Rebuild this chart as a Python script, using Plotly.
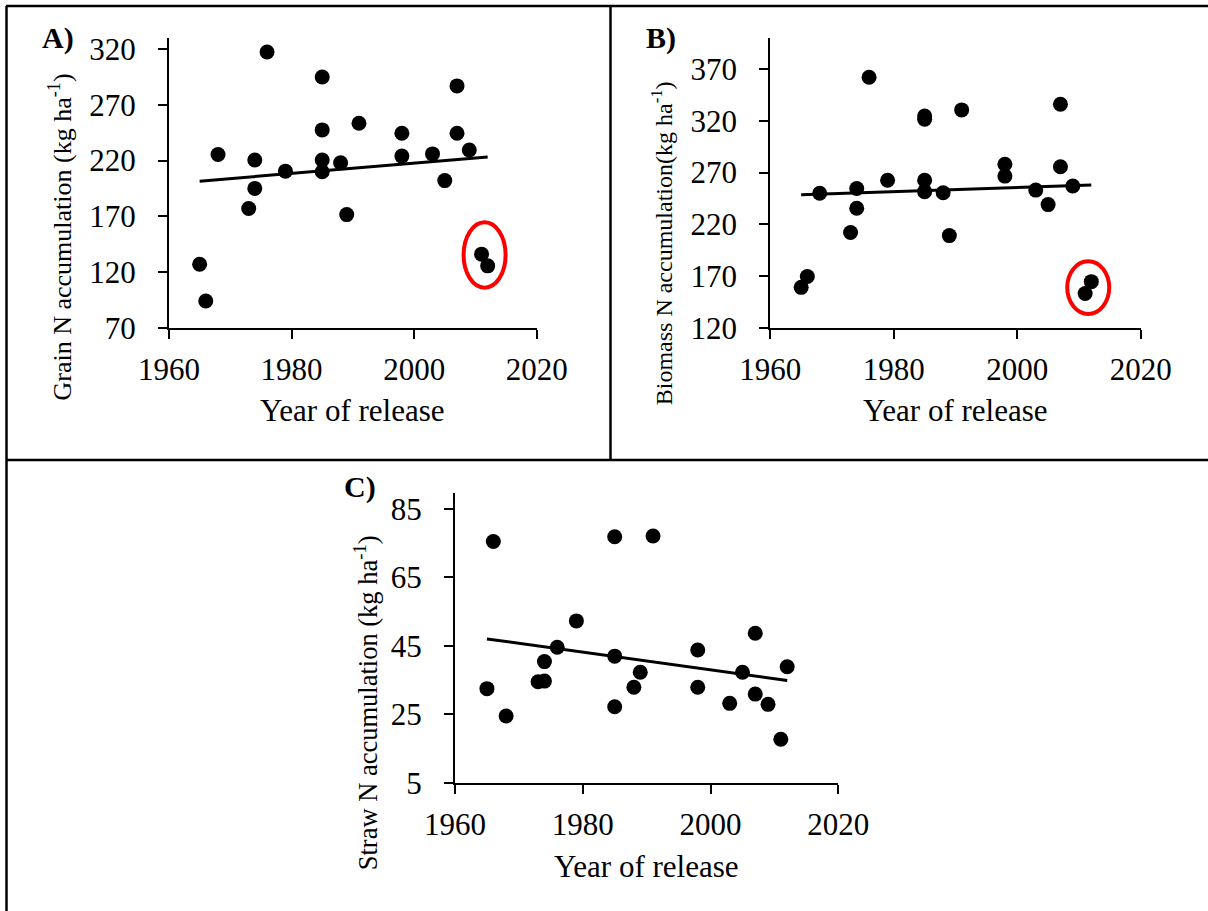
import numpy as np
import plotly.graph_objects as go

W, H = 1208, 911

# ---------------- data ----------------
years_a = [1965, 1966, 1968, 1973, 1974, 1974, 1976, 1979, 1985, 1985, 1985, 1985,
           1988, 1989, 1991, 1998, 1998, 2003, 2005, 2007, 2007, 2009, 2011, 2012]
grain_n = [127, 94, 225.5, 177, 195, 220.5, 317.5, 210.5, 295, 247.5, 220.5, 210,
           218, 171.5, 253.5, 244.5, 224, 226, 202, 287, 244.5, 229.5, 136, 125.5]

years_b = [1965, 1966, 1968, 1973, 1974, 1974, 1976, 1979, 1985, 1985, 1985, 1985,
           1988, 1989, 1991, 1998, 1998, 2003, 2005, 2007, 2007, 2009, 2011, 2012]
biomass_n = [159, 169.5, 250, 212, 235.5, 254.5, 362, 262.5, 324.5, 321.5, 262.5, 251.5,
             250.5, 209, 330.5, 278, 266.5, 253, 239, 336, 275.5, 257, 153, 164.5]

years_c = [1965, 1966, 1968, 1973, 1974, 1974, 1976, 1979, 1985, 1985, 1985, 1988,
           1989, 1991, 1998, 1998, 2003, 2005, 2007, 2007, 2009, 2011, 2012]
straw_n = [32.5, 75.5, 24.5, 34.5, 34.7, 40.4, 44.6, 52.3, 76.9, 42, 27.2, 32.9,
           37.3, 77.1, 43.8, 32.9, 28.2, 37.3, 48.7, 30.9, 27.9, 17.7, 38.9]

x_ticks = [1960, 1980, 2000, 2020]
y_ticks_a = [70, 120, 170, 220, 270, 320]
y_ticks_b = [120, 170, 220, 270, 320, 370]
y_ticks_c = [5, 25, 45, 65, 85]

titles_y = ["Grain N accumulation (kg ha<sup>-1</sup>)",
            "Biomass N accumulation(kg ha<sup>-1</sup>)",
            "Straw N accumulation (kg ha<sup>-1</sup>)"]
title_x = "Year of release"
panel_labels = ["A)", "B)", "C)"]
highlight_n = 2  # last two varieties circled in A and B

FONT = "Liberation Serif, Times New Roman, serif"


def px_x(p):
    return p / W


def px_y(p):
    return 1 - p / H


# panel boxes in pixels: (left, right, top, bottom)
boxes = [(169, 536.7, 38, 327.7), (770.3, 1140.7, 38, 327.7), (455, 838.3, 493.3, 782.7)]
yranges = [[70, 330], [120, 400], [5, 89.6]]
yticks = [y_ticks_a, y_ticks_b, y_ticks_c]
datasets = [(years_a, grain_n), (years_b, biomass_n), (years_c, straw_n)]

fig = go.Figure()

for i, (xs, ys) in enumerate(datasets):
    n = i + 1
    xa = "x" if n == 1 else f"x{n}"
    ya = "y" if n == 1 else f"y{n}"
    fig.add_trace(go.Scatter(x=xs, y=ys, mode="markers", xaxis=xa, yaxis=ya,
                             marker=dict(color="black", size=15),
                             showlegend=False, hoverinfo="x+y"))
    slope, icpt = np.polyfit(np.array(xs, float), np.array(ys, float), 1)
    xl = np.array([min(xs), max(xs)], float)
    fig.add_trace(go.Scatter(x=xl, y=slope * xl + icpt, mode="lines", xaxis=xa, yaxis=ya,
                             line=dict(color="black", width=3),
                             showlegend=False, hoverinfo="skip"))

    l, r, t, b = boxes[i]
    axis_common = dict(showline=True, linecolor="black", linewidth=2, ticks="outside",
                       ticklen=9, tickwidth=2, tickcolor="black", showgrid=False,
                       zeroline=False, mirror=False, automargin=False,
                       tickfont=dict(family=FONT, size=31, color="black"))
    fig.layout[f"xaxis{'' if n == 1 else n}"] = dict(
        domain=[px_x(l), px_x(r)], range=[1960, 2020], tickvals=x_ticks,
        anchor=ya, ticklabelstandoff=4, **axis_common)
    fig.layout[f"yaxis{'' if n == 1 else n}"] = dict(
        domain=[px_y(b), px_y(t)], range=yranges[i], tickvals=yticks[i],
        anchor=xa, ticklabelstandoff=16, **axis_common)

    # x title
    xt_y = [411, 411, 866][i]
    fig.add_annotation(text=title_x, xref="paper", yref="paper",
                       x=px_x((l + r) / 2), y=px_y(xt_y), showarrow=False,
                       xanchor="center", yanchor="middle",
                       font=dict(family=FONT, size=31, color="black"))
    # y title
    yt_pos = [(61, 237.5), (662, 243.3), (366, 703.3)][i]
    yt_size = [26, 24, 26.5][i]
    fig.add_annotation(text=titles_y[i], xref="paper", yref="paper",
                       x=px_x(yt_pos[0]), y=px_y(yt_pos[1]), showarrow=False,
                       textangle=-90, xanchor="center", yanchor="middle",
                       font=dict(family=FONT, size=yt_size, color="black"))
    # panel label
    lab_pos = [(57.5, 38), (661.3, 38), (359.5, 487)][i]
    fig.add_annotation(text=f"<b>{panel_labels[i]}</b>", xref="paper", yref="paper",
                       x=px_x(lab_pos[0]), y=px_y(lab_pos[1]), showarrow=False,
                       xanchor="center", yanchor="middle",
                       font=dict(family=FONT, size=30, color="black"))

# red ellipses around the last two varieties (A and B)
ell = [(21, 32.7, 5), (21, 26.3, 0)]
for i in range(2):
    xs, ys = datasets[i]
    cx = float(np.mean(xs[-highlight_n:]))
    cy = float(np.mean(ys[-highlight_n:]))
    rx, ry, dy = ell[i]
    n = i + 1
    fig.add_shape(type="circle", xref="x" if n == 1 else f"x{n}",
                  yref="y" if n == 1 else f"y{n}",
                  xsizemode="pixel", ysizemode="pixel", xanchor=cx, yanchor=cy,
                  x0=-rx, x1=rx, y0=-ry + dy, y1=ry + dy,
                  line=dict(color="#FF0000", width=4))

# frame lines
frame = [((6, 6), (W, 6)), ((6.5, 6), (6.5, H)), ((610.5, 6), (610.5, 460)), ((6, 460), (W, 460))]
for (x0, y0), (x1, y1) in frame:
    fig.add_shape(type="line", xref="paper", yref="paper",
                  x0=px_x(x0), y0=px_y(y0), x1=px_x(x1), y1=px_y(y1),
                  line=dict(color="black", width=2.5))

fig.update_layout(template="none", width=W, height=H,
                  margin=dict(l=0, r=0, t=0, b=0, autoexpand=False),
                  paper_bgcolor="white", plot_bgcolor="white", showlegend=False,
                  font=dict(family=FONT, color="black"))

fig.write_html("out.html")
